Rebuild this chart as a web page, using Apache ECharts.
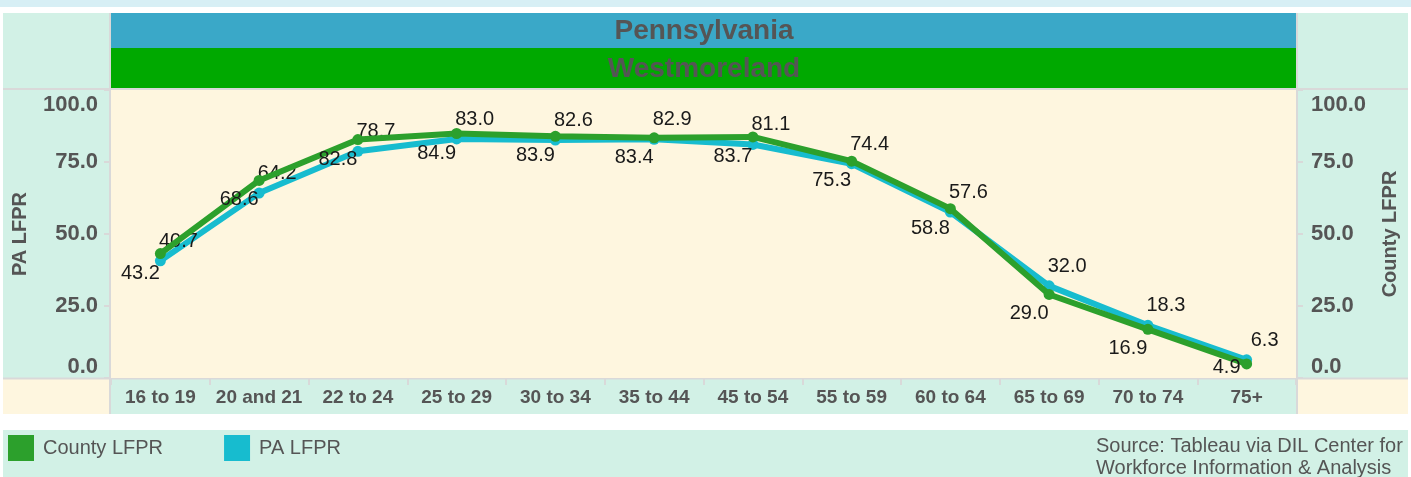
<!DOCTYPE html>
<html>
<head>
<meta charset="utf-8">
<title>LFPR by age</title>
<script src="https://cdn.jsdelivr.net/npm/echarts@6/dist/echarts.min.js"></script>
<style>
    html, body { margin: 0; padding: 0; background: #fff; }
    #chart { width: 1411px; height: 477px; }
</style>
</head>
<body>
<div id="chart"></div>
<script>
// data
let categories = ["16 to 19", "20 and 21", "22 to 24", "25 to 29", "30 to 34", "35 to 44",
    "45 to 54", "55 to 59", "60 to 64", "65 to 69", "70 to 74", "75+"];
let pa_lfpr = [40.7, 64.2, 78.7, 83.0, 82.6, 82.9, 81.1, 74.4, 57.6, 32.0, 18.3, 6.3];
let county_lfpr = [43.2, 68.6, 82.8, 84.9, 83.9, 83.4, 83.7, 75.3, 58.8, 29.0, 16.9, 4.9];
let y_ticks = [0, 25, 50, 75, 100];

const mint = "#d2f1e6";
const cream = "#fef6df";
const grey = "#d9d9d9";
const txt = "#555555";
const font = "Arial, 'Liberation Sans', sans-serif";

// layout boxes (background panels only)
const plot = { x: 111, y: 90, w: 1185, h: 288 };

function box(x, y, w, h, color) {
    return { type: "rect", shape: { x: x, y: y, width: w, height: h }, style: { fill: color }, silent: true, z: -10 };
}
function line(x1, y1, x2, y2) {
    return { type: "line", shape: { x1: x1, y1: y1, x2: x2, y2: y2 }, style: { stroke: grey, lineWidth: 2 }, silent: true, z: -5 };
}
function label(text, x, y, fnt, align) {
    return {
        type: "text", x: x, y: y, z: 5, silent: true,
        style: { text: text, align: align, verticalAlign: "middle", fill: txt, font: fnt, lineHeight: 22 }
    };
}

let graphics = [
    box(0, 0, 1411, 7, "#d7eff5"),
    box(3, 13, 107, 76, mint),
    box(111, 13, 1185, 35, "#3aa8c8"),
    box(111, 48, 1185, 41, "#00a900"),
    box(1297, 13, 111, 76, mint),
    box(3, 90, 107, 288, mint),
    box(1297, 90, 111, 288, mint),
    box(3, 379, 107, 35, cream),
    box(111, 379, 1185, 35, mint),
    box(1297, 379, 111, 35, cream),
    box(3, 430, 1405, 47, mint),
    line(3, 89, 1408, 89),
    line(110, 13, 110, 414),
    line(1297, 13, 1297, 414),
    line(3, 378.5, 1408, 378.5),
    label("Pennsylvania", 704, 31, "bold 28px " + font, "center"),
    label("Westmoreland", 704, 69, "bold 28px " + font, "center"),
    label("Source: Tableau via DIL Center for\nWorkforce Information & Analysis", 1096, 457, "20px " + font, "left")
];

function y_axis(name, pos) {
    return {
        type: "value",
        position: pos,
        min: y_ticks[0],
        max: y_ticks[y_ticks.length - 1],
        interval: 25,
        name: name,
        nameLocation: "middle",
        nameRotate: 90,
        nameGap: pos == "left" ? 81 : 84,
        nameTextStyle: { color: txt, fontSize: 20, fontWeight: "bold", fontFamily: font },
        axisLine: { show: false },
        axisTick: { show: true, length: 7, lineStyle: { color: grey, width: 2 } },
        splitLine: { show: false },
        axisLabel: {
            color: txt, fontSize: 22, fontWeight: "bold", fontFamily: font,
            margin: pos == "left" ? 13 : 15,
            verticalAlignMinLabel: "bottom",
            verticalAlignMaxLabel: "top",
            rich: { top: { padding: [4, 0, 0, 0], color: txt, fontSize: 22, fontWeight: "bold", fontFamily: font } },
            formatter: function (v) {
                return v == 100 ? "{top|" + v.toFixed(1) + "}" : v.toFixed(1);
            }
        }
    };
}

// county labels sit below-left of the point and stay inside the plot area
function county_label_layout(params) {
    let r = params.labelRect;
    let cy = r.y + r.height / 2;
    let max_cy = plot.y + plot.h - 11;
    return {
        x: r.x + r.width / 2 - 20,
        y: Math.min(cy, max_cy),
        align: "center",
        verticalAlign: "middle"
    };
}

let option = {
    animation: false,
    backgroundColor: "#ffffff",
    graphic: graphics,
    grid: {
        left: plot.x, top: plot.y, width: plot.w, height: plot.h,
        outerBoundsMode: "none",
        containLabel: false,
        show: true, backgroundColor: cream, borderWidth: 0
    },
    legend: {
        left: 8, top: 435,
        padding: 0,
        icon: "rect",
        itemWidth: 26, itemHeight: 26,
        itemGap: 61,
        textStyle: { color: txt, fontSize: 20, fontFamily: font, padding: [0, 0, 0, 4] },
        data: ["County LFPR", "PA LFPR"]
    },
    xAxis: {
        type: "category",
        data: categories,
        boundaryGap: true,
        axisLine: { show: false },
        axisTick: { show: true, length: 7, lineStyle: { color: grey, width: 2 } },
        axisLabel: { interval: 0, color: txt, fontSize: 19, fontWeight: "bold", fontFamily: font, margin: 10 }
    },
    yAxis: [y_axis("PA LFPR", "left"), y_axis("County LFPR", "right")],
    series: [
        {
            name: "PA LFPR",
            type: "line",
            yAxisIndex: 0,
            data: pa_lfpr,
            color: "#17bccf",
            lineStyle: { width: 6 },
            symbol: "circle",
            symbolSize: 11,
            z: 3,
            label: {
                show: true, position: "top", distance: 4, offset: [18, 0],
                color: "#1a1a1a", fontSize: 20, fontFamily: font,
                formatter: p => p.value.toFixed(1)
            }
        },
        {
            name: "County LFPR",
            type: "line",
            yAxisIndex: 1,
            data: county_lfpr,
            color: "#2ca02c",
            lineStyle: { width: 6 },
            symbol: "circle",
            symbolSize: 11,
            z: 4,
            label: {
                show: true, position: "bottom", distance: 4,
                color: "#1a1a1a", fontSize: 20, fontFamily: font,
                formatter: p => p.value.toFixed(1)
            },
            labelLayout: county_label_layout
        }
    ]
};

let chart = echarts.init(document.getElementById("chart"));
chart.setOption(option);
</script>
</body>
</html>
